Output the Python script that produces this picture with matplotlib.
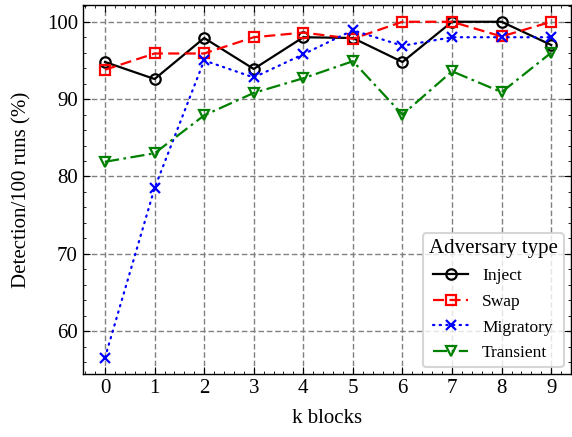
import numpy as np
import matplotlib
matplotlib.use("Agg")
import matplotlib.pyplot as plt

# =========================
# STYLE
# =========================

plt.rcParams.update({
    "font.family": "serif",
    "font.serif": ["Liberation Serif", "DejaVu Serif"],
    "font.size": 15,
    "axes.labelsize": 15,
    "xtick.labelsize": 15,
    "ytick.labelsize": 15,
    "legend.fontsize": 12.5,
    "legend.title_fontsize": 15,
    "xtick.direction": "in",
    "ytick.direction": "in",
    "xtick.top": True,
    "ytick.right": True,
    "xtick.minor.visible": True,
    "ytick.minor.visible": True,
    "xtick.major.size": 5,
    "ytick.major.size": 5,
    "xtick.minor.size": 2.5,
    "ytick.minor.size": 2.5,
    "axes.linewidth": 1.0,
})

# =========================
# DATA
# =========================

k_blocks = [0, 1, 2, 3, 4, 5, 6, 7, 8, 9]

inject = [94.8, 92.6, 97.9, 93.9, 98.0, 97.9, 94.8, 100.0, 100.0, 97.0]
swap = [93.8, 95.9, 95.9, 98.0, 98.6, 97.8, 100.0, 100.0, 98.1, 100.0]
migratory = [56.6, 78.5, 95.0, 92.8, 95.8, 98.9, 96.9, 98.0, 98.0, 98.0]
transient = [81.9, 83.0, 87.9, 90.8, 92.7, 94.9, 88.0, 93.6, 90.9, 96.0]

series = [
    ("Inject", inject, "k", "-", "o"),
    ("Swap", swap, "r", (0, (5.0, 2.4)), "s"),
    ("Migratory", migratory, "b", (0, (0.6, 2.4)), "x"),
    ("Transient", transient, "g", (0, (6.4, 2.0, 1.2, 2.0)), "v"),
]

# =========================
# PLOT
# =========================

fig = plt.figure(figsize=(5.72, 4.37), dpi=100)
ax = fig.add_axes([0.1446, 0.1435, 0.8528, 0.8451])

for name, vals, col, ls, mk in series:
    ax.plot(
        k_blocks, vals,
        color=col, linestyle=ls, marker=mk,
        markersize=7.5, markerfacecolor="none",
        markeredgewidth=1.6, linewidth=1.6,
        dash_capstyle="round" if mk == "x" else "butt",
        label=name
    )

ax.set_xlim(-0.45, 9.39)
ax.set_ylim(54.43, 102.17)
ax.set_xticks(k_blocks)
ax.xaxis.set_minor_locator(matplotlib.ticker.MultipleLocator(0.2))
ax.yaxis.set_major_locator(matplotlib.ticker.MultipleLocator(10))
ax.yaxis.set_minor_locator(matplotlib.ticker.MultipleLocator(2))

ax.grid(True, which="major", linestyle=(0, (4, 2)), color="gray", linewidth=1.0)

ax.set_xlabel("k blocks", labelpad=8)
ax.set_ylabel("Detection/100 runs (%)", labelpad=11)

leg = ax.legend(title="Adversary type", loc="lower right",
                handlelength=2.0, borderpad=0.35, labelspacing=0.55,
                handletextpad=0.8, borderaxespad=0.4)
leg.get_frame().set_edgecolor("#cccccc")
leg.get_frame().set_linewidth(1.5)

fig.savefig("out.png", dpi=100)
